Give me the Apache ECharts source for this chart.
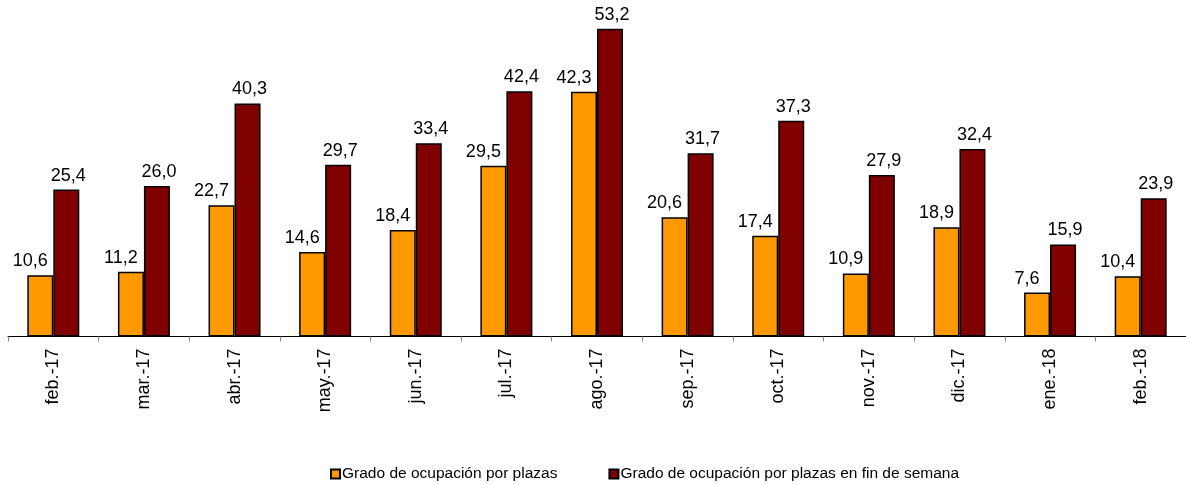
<!DOCTYPE html>
<html><head><meta charset="utf-8">
<script src="https://cdn.jsdelivr.net/npm/echarts@6/dist/echarts.min.js"></script>
<style>html,body{margin:0;padding:0;background:#fff}#c{width:1186px;height:485px}</style>
</head><body><div id="c"></div>
<script>
const categories = ['feb.-17','mar.-17','abr.-17','may.-17','jun.-17','jul.-17','ago.-17','sep.-17','oct.-17','nov.-17','dic.-17','ene.-18','feb.-18'];
const plazas = [10.6, 11.2, 22.7, 14.6, 18.4, 29.5, 42.3, 20.6, 17.4, 10.9, 18.9, 7.6, 10.4];
const finSemana = [25.4, 26.0, 40.3, 29.7, 33.4, 42.4, 53.2, 31.7, 37.3, 27.9, 32.4, 15.9, 23.9];
const seriesNames = ['Grado de ocupación por plazas', 'Grado de ocupación por plazas en fin de semana'];

const font = 'Liberation Sans, Arial, sans-serif';
const fmt = p => p.value.toFixed(1).replace('.', ',');
const chart = echarts.init(document.getElementById('c'), null, {renderer: 'canvas'});
chart.setOption({
  animation: false,
  grid: {left: 8, right: -2, top: 1, height: 335.5, containLabel: false},
  legend: {
    left: 325, top: 461, itemWidth: 9, itemHeight: 9, itemGap: 51, icon: 'rect',
    textStyle: {fontFamily: font, fontSize: 15.5, color: '#000', padding: [0,0,0,-3]},
    data: seriesNames
  },
  xAxis: {
    type: 'category', data: categories,
    axisLine: {lineStyle: {color: '#000', width: 1}},
    axisTick: {show: true, length: 5, lineStyle: {color: '#888'}},
    axisLabel: {rotate: 90, margin: 12, fontFamily: font, fontSize: 18, color: '#000'}
  },
  yAxis: {type: 'value', min: 0, max: 58, show: false, splitLine: {show: false}},
  series: [
    {
      name: seriesNames[0], type: 'bar', data: plazas, barWidth: 26, barGap: '0%',
      itemStyle: {color: '#FF9900', borderColor: '#000', borderWidth: 1.5},
      label: {show: true, position: 'top', distance: 5, offset: [-10, 0], formatter: fmt,
        fontFamily: font, fontSize: 18, color: '#000'}
    },
    {
      name: seriesNames[1], type: 'bar', data: finSemana, barWidth: 26, barGap: '0%',
      itemStyle: {color: '#800000', borderColor: '#000', borderWidth: 1.5},
      label: {show: true, position: 'top', distance: 5, offset: [2, 0], formatter: fmt,
        fontFamily: font, fontSize: 18, color: '#000'}
    }
  ]
});
</script></body></html>
